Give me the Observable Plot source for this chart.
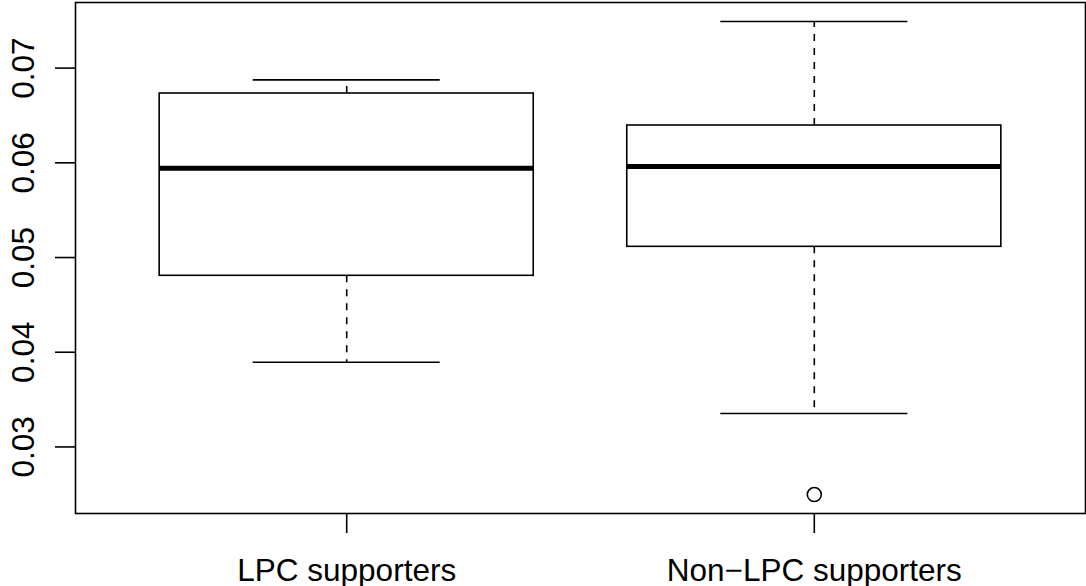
<!DOCTYPE html>
<html>
<head>
<meta charset="utf-8">
<script src="https://cdn.jsdelivr.net/npm/d3@7"></script>
<script src="https://cdn.jsdelivr.net/npm/@observablehq/plot@0.6"></script>
<style>
  html, body { margin: 0; padding: 0; background: #fff; }
  #chart svg { display: block; }
</style>
</head>
<body>
<div id="chart"></div>
<script>
// Categories and five-number summaries
const groups = ["LPC supporters", "Non\u2212LPC supporters"];
const lowerWhisker = [0.03894, 0.03353];
const q1 = [0.04807, 0.05113];
const median = [0.05943, 0.05961];
const q3 = [0.06732, 0.06394];
const upperWhisker = [0.06876, 0.07493];
const outlierGroup = [1];           // index into groups
const outlierValue = [0.02497];
const yTicks = [0.03, 0.04, 0.05, 0.06, 0.07];

const idx = groups.map((_, i) => i);
const outliers = outlierValue.map((v, k) => ({g: outlierGroup[k] + 1, v}));

const allVals = [...lowerWhisker, ...upperWhisker, ...outlierValue];
const lo = Math.min(...allVals), hi = Math.max(...allVals);
const pad = (hi - lo) * 0.04;

const FONT = "Liberation Sans, Arial, Helvetica, sans-serif";
const LW = 1.6;
const FS = 31.5;

const chart = Plot.plot({
  width: 1086,
  height: 586,
  marginLeft: 75,
  marginRight: 1,
  marginTop: 2,
  marginBottom: 73,
  style: {fontFamily: FONT, background: "white", color: "black"},
  x: {domain: [0.42, 2.58]},
  y: {domain: [lo - pad, hi + pad]},
  marks: [
    Plot.frame({stroke: "black", strokeWidth: LW}),
    Plot.axisY({ticks: yTicks, tickSize: 20, tickFormat: () => "", label: null, stroke: "black", strokeWidth: LW}),
    Plot.axisX({ticks: [1, 2], tickSize: 20, tickFormat: () => "", label: null, stroke: "black", strokeWidth: LW}),
    Plot.text(yTicks, {y: d => d, text: d => d.toFixed(2), frameAnchor: "left", dx: -42, rotate: -90,
      textAnchor: "middle", lineAnchor: "bottom", fontSize: FS, fill: "black"}),
    Plot.text(idx, {x: i => i + 1, text: i => groups[i], frameAnchor: "bottom", dy: 67,
      textAnchor: "middle", lineAnchor: "bottom", fontSize: FS, fill: "black"}),
    // whiskers (dashed)
    Plot.ruleX(idx, {x: i => i + 1, y1: i => q3[i], y2: i => upperWhisker[i], stroke: "black", strokeWidth: LW, strokeDasharray: "7,7"}),
    Plot.ruleX(idx, {x: i => i + 1, y1: i => q1[i], y2: i => lowerWhisker[i], stroke: "black", strokeWidth: LW, strokeDasharray: "7,7"}),
    // staples
    Plot.ruleY(idx, {y: i => upperWhisker[i], x1: i => i + 1 - 0.2, x2: i => i + 1 + 0.2, stroke: "black", strokeWidth: LW}),
    Plot.ruleY(idx, {y: i => lowerWhisker[i], x1: i => i + 1 - 0.2, x2: i => i + 1 + 0.2, stroke: "black", strokeWidth: LW}),
    // boxes
    Plot.rect(idx, {x1: i => i + 1 - 0.4, x2: i => i + 1 + 0.4, y1: i => q1[i], y2: i => q3[i], fill: "white", stroke: "black", strokeWidth: LW}),
    // medians
    Plot.ruleY(idx, {y: i => median[i], x1: i => i + 1 - 0.4, x2: i => i + 1 + 0.4, stroke: "black", strokeWidth: 5}),
    // outliers
    Plot.dot(outliers, {x: "g", y: "v", r: 7, stroke: "black", strokeWidth: LW, fill: "none"})
  ]
});
document.getElementById("chart").appendChild(chart);
</script>
</body>
</html>
